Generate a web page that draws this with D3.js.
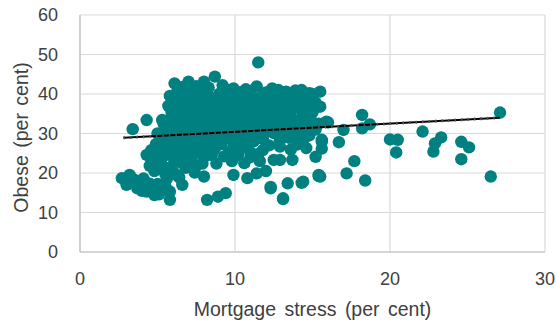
<!DOCTYPE html>
<html><head><meta charset="utf-8">
<script src="https://cdn.jsdelivr.net/npm/d3@7"></script>
<style>html,body{margin:0;padding:0;background:#fff;}svg{display:block;}</style>
</head><body>
<svg id="chart" width="556" height="329"></svg>
<script>
const xTicks = [0, 10, 20, 30];
const yTicks = [0, 10, 20, 30, 40, 50, 60];
const xTitle = "Mortgage stress (per cent)";
const yTitle = "Obese (per cent)";
// Trend line endpoints [mortgage stress, obese]
const trend = [[2.8, 28.9], [27.1, 34.0]];
// Mortgage stress (x) and obese (y) for each area
const mortgageStress = [
 6.1,6.6,7.0,7.5,8.0,8.7,9.2,9.9,10.4,11.0,11.4,12.4,13.3,14.3,15.5,11.5,13.8,14.8,
 5.8,6.4,7.1,7.8,8.4,9.0,9.6,10.2,10.9,11.6,12.2,12.9,13.6,14.2,15.0,
 5.7,6.3,6.9,7.5,8.1,8.7,9.3,9.9,10.5,11.1,11.7,12.3,12.9,13.5,14.1,14.7,15.4,
 5.9,6.5,7.1,7.7,8.3,8.9,9.5,10.1,10.7,11.3,11.9,12.5,13.1,13.7,14.3,14.9,15.9,5.3,4.3,
 5.6,6.2,6.8,7.4,8.0,8.6,9.2,9.8,10.4,11.0,11.6,12.2,12.8,13.4,14.0,14.6,15.2,3.4,
 5.2,5.8,6.4,7.0,7.6,8.2,8.8,9.4,10.0,10.6,11.2,11.8,12.9,13.5,14.4,15.6,
 4.6,5.1,5.7,6.3,6.9,7.5,8.1,8.7,9.6,10.3,11.0,11.8,12.9,13.6,14.6,15.6,
 4.6,5.2,5.6,6.1,6.6,7.2,7.9,8.8,9.8,10.6,11.6,12.5,12.9,13.7,15.2,4.3,
 4.8,5.1,5.5,6.0,6.4,7.4,8.0,9.9,10.8,11.4,15.4,12.0,
 2.7,3.2,3.0,3.7,4.3,4.8,5.8,5.8,6.6,3.9,4.5,5.2,8.2,8.9,9.4,12.3,13.1,13.4,14.4,14.3,12.3,13.1,
 27.1,26.5,24.6,24.6,25.1,23.3,22.9,22.8,22.1,20.5,20.0,20.4,18.4,17.2,17.7,16.7,18.2,18.7,18.2,17.0,16.0,15.6,15.5,15.5,15.4,
 6.3,7.3,8.3,9.5,10.7,12.0,12.8,13.9,15.0,
 6.0,6.7,7.4,8.1,8.8,9.5,10.2,10.8,11.4,12.0,12.6,13.2,13.9,14.5,15.2,
 5.9,6.6,7.3,8.0,8.6,9.2,9.8,10.4,11.0,11.7,12.3,12.9,13.6,14.4,15.0,
 5.4,6.0,6.7,7.3,8.0,8.6,9.2,9.9,10.6,11.3,12.0,12.6,13.3,14.0,14.7,15.4,
 5.0,5.6,6.2,6.9,7.6,8.3,9.0,9.7,10.4,11.1,11.8,12.5,13.2,13.9,14.8,
 4.9,5.5,6.1,6.7,7.3,7.9,8.5,9.1,9.9,10.8,12.2,14.0,
 4.9,5.4,6.0,6.6,7.3,8.0,8.5,9.3,10.2,11.0,11.5,
 4.5,5.3,5.9,6.8,7.5,6.2,
 3.5,4.1,4.4,5.0,5.5,4.0,5.1,5.6,3.3
];
const obese = [
 42.7,41.8,43.1,42.0,43.1,44.4,42.2,41.4,40.5,40.8,41.9,41.4,40.6,41.0,40.6,48.0,39.8,40.2,
 39.5,40.0,39.6,40.3,39.2,40.1,39.3,38.9,39.5,39.0,39.7,39.2,38.6,39.1,38.8,
 37.0,36.4,37.2,36.6,37.4,36.5,37.1,36.3,37.0,36.2,37.0,36.4,36.9,36.0,36.6,35.9,36.8,
 34.2,33.8,34.5,33.6,34.3,33.7,34.4,33.5,34.2,33.6,34.4,33.8,34.1,33.2,34.0,33.4,33.0,33.4,33.4,
 31.5,31.0,31.8,30.9,31.6,31.0,31.7,30.8,31.5,30.9,31.6,30.7,31.4,30.6,31.2,30.5,31.0,31.1,
 28.6,29.0,28.3,28.9,28.2,28.8,28.0,28.7,27.9,28.5,28.0,28.6,28.3,28.9,28.2,28.4,
 25.8,26.5,25.9,26.4,25.6,26.2,25.5,26.1,25.3,26.0,25.2,25.8,26.7,25.9,26.3,26.2,
 23.4,22.8,24.6,23.2,22.5,23.6,22.4,22.4,23.0,22.5,23.0,23.3,23.3,23.3,24.1,24.6,
 20.5,21.2,19.8,20.4,18.9,20.1,19.1,19.5,18.7,19.9,19.5,20.5,
 18.7,19.5,17.0,16.1,15.3,14.4,15.3,13.2,17.0,17.6,17.3,15.8,13.2,14.0,14.9,16.5,13.6,17.4,17.8,17.5,16.1,13.4,
 35.3,19.1,23.5,27.9,26.5,29.0,27.5,25.4,30.5,28.4,28.5,25.2,18.1,19.9,23.0,27.8,34.7,32.3,31.3,30.9,32.8,27.9,36.8,19.1,19.2,
 41.0,41.3,41.6,41.0,41.2,40.4,41.0,40.9,40.0,
 38.2,38.6,38.0,38.5,37.9,38.4,37.6,38.1,37.7,38.3,37.9,38.0,37.5,38.0,37.8,
 35.5,35.2,35.6,35.0,35.5,35.1,35.4,35.0,35.3,35.0,35.4,35.0,35.3,35.1,35.4,
 32.4,32.8,32.3,32.8,32.4,32.7,32.3,32.8,32.4,32.7,32.3,32.6,32.4,32.7,32.2,32.5,
 30.0,30.2,29.8,30.3,29.8,30.2,29.7,30.1,29.6,30.2,29.7,30.1,29.6,30.0,29.5,
 27.3,27.6,27.0,27.5,27.0,27.4,26.9,27.3,26.8,27.2,27.0,27.2,
 24.0,25.2,24.8,24.2,24.8,24.0,24.5,24.2,24.6,24.0,24.8,
 21.8,22.0,21.6,21.3,21.8,19.6,
 18.3,18.6,16.6,17.2,16.8,15.5,14.6,18.5,17.8
];

const svg = d3.select("#chart");
const m = {left: 80, right: 545, top: 15, bottom: 252};
const x = d3.scaleLinear().domain([0, 30]).range([m.left, m.right]);
const y = d3.scaleLinear().domain([0, 60]).range([m.bottom, m.top]);
const textColor = "#404040";
const font = "Liberation Sans, Arial, sans-serif";

// gridlines
svg.append("g").selectAll("line").data(yTicks).join("line")
  .attr("x1", m.left).attr("x2", m.right)
  .attr("y1", d => y(d)).attr("y2", d => y(d))
  .attr("stroke", "#d9d9d9").attr("stroke-width", 1.2);
svg.append("g").selectAll("line").data(xTicks).join("line")
  .attr("x1", d => x(d)).attr("x2", d => x(d))
  .attr("y1", m.top).attr("y2", m.bottom)
  .attr("stroke", "#d9d9d9").attr("stroke-width", 1.2);
// axes lines
svg.append("line").attr("x1", m.left).attr("x2", m.right).attr("y1", m.bottom).attr("y2", m.bottom)
  .attr("stroke", "#bfbfbf").attr("stroke-width", 1.2);
svg.append("line").attr("x1", m.left).attr("x2", m.left).attr("y1", m.top).attr("y2", m.bottom)
  .attr("stroke", "#bfbfbf").attr("stroke-width", 1.2);

// tick labels
svg.append("g").selectAll("text").data(yTicks).join("text")
  .attr("x", 58).attr("y", d => y(d)).attr("dy", "0.36em")
  .attr("text-anchor", "end").attr("fill", textColor)
  .style("font-family", font).style("font-size", "18px").text(d => d);
svg.append("g").selectAll("text").data(xTicks).join("text")
  .attr("x", d => x(d)).attr("y", 285)
  .attr("text-anchor", "middle").attr("fill", textColor)
  .style("font-family", font).style("font-size", "18px").text(d => d);

// titles
svg.append("text").attr("x", (m.left + m.right) / 2).attr("y", 316)
  .attr("text-anchor", "middle").attr("fill", textColor)
  .style("font-family", font).style("font-size", "19.5px").style("word-spacing", "3px").text(xTitle);
svg.append("text").attr("transform", `translate(28,${(m.top + m.bottom) / 2 + 4}) rotate(-90)`)
  .attr("text-anchor", "middle").attr("fill", textColor)
  .style("font-family", font).style("font-size", "19.5px").style("word-spacing", "2px").text(yTitle);

// points
const pts = mortgageStress.map((v, i) => [v, obese[i]]);
svg.append("g").selectAll("circle").data(pts).join("circle")
  .attr("cx", d => x(d[0])).attr("cy", d => y(d[1])).attr("r", 6.2)
  .attr("fill", "#008080");

// trend line
svg.append("path").datum(trend)
  .attr("d", d3.line().x(d => x(d[0])).y(d => y(d[1])))
  .attr("stroke", "#000").attr("stroke-width", 2).attr("fill", "none");
svg.append("path").datum(trend)
  .attr("d", d3.line().x(d => x(d[0])).y(d => y(d[1])))
  .attr("stroke", "#555").attr("stroke-width", 3).attr("stroke-dasharray", "1.5,5").attr("fill", "none");
</script>
</body></html>
